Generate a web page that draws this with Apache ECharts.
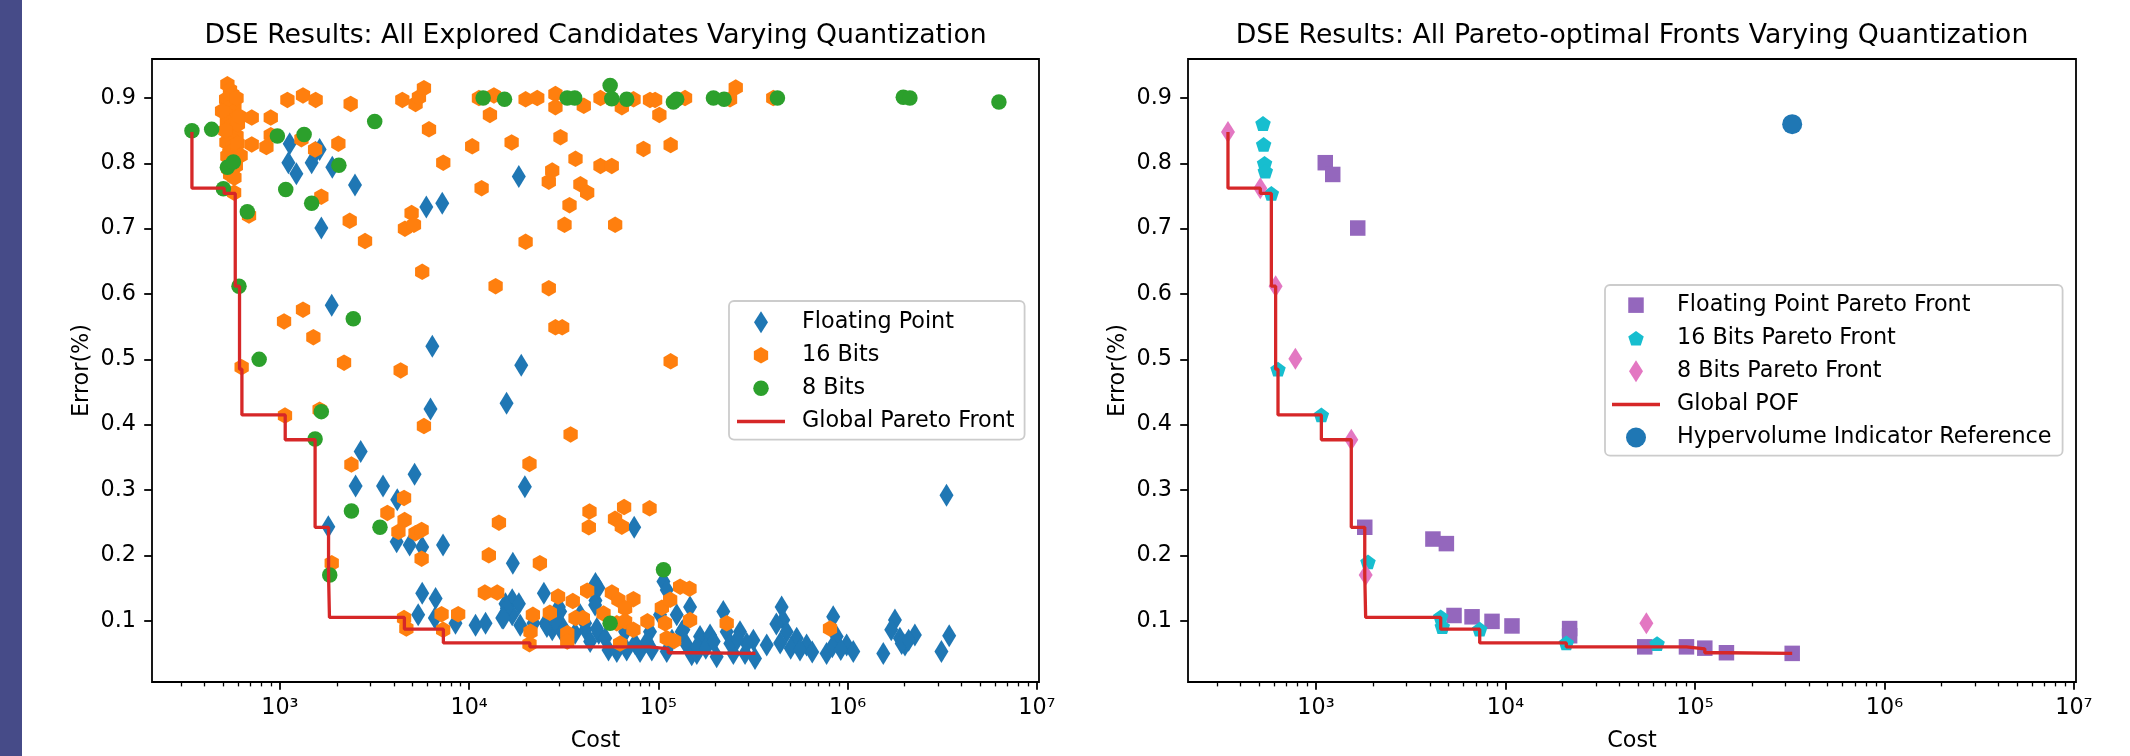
<!DOCTYPE html>
<html>
<head>
<meta charset="utf-8">
<title>DSE Results</title>
<script src="https://cdn.jsdelivr.net/npm/echarts@6/dist/echarts.min.js"></script>
<style>
  html, body { margin: 0; padding: 0; background: #fff; }
  #chart { width: 2130px; height: 756px; }
</style>
</head>
<body>
<div id="chart"></div>
<script>
// [cost, error] pairs
const fpCandidates = [
  [1127, 0.830], [1109, 0.801], [1222, 0.784], [1472, 0.801], [1546, 0.817], [1622, 0.821], [1892, 0.794],
  [2494, 0.767], [1656, 0.701], [5940, 0.733], [7210, 0.739], [18300, 0.780], [1879, 0.583], [6390, 0.520],
  [18850, 0.491], [15770, 0.433], [6250, 0.424], [2673, 0.359], [5150, 0.324], [2513, 0.306], [3508, 0.306],
  [4170, 0.285], [19700, 0.305], [1803, 0.244], [4140, 0.221], [4850, 0.216], [5650, 0.213], [7280, 0.216],
  [17020, 0.188], [5650, 0.142], [6650, 0.134], [5380, 0.109], [6590, 0.104], [8470, 0.096], [10810, 0.093],
  [12210, 0.096], [15560, 0.126], [16890, 0.132], [18320, 0.126], [14960, 0.104], [16890, 0.109], [24830, 0.142],
  [25350, 0.096], [27490, 0.086], [31050, 0.091], [29800, 0.121], [41200, 0.086], [46500, 0.157], [46500, 0.131],
  [48400, 0.081], [15820, 0.119], [15200, 0.104], [21880, 0.096], [25760, 0.091], [30280, 0.114], [30900, 0.083],
  [36310, 0.081], [41020, 0.096], [48200, 0.150], [46300, 0.124], [47300, 0.088], [52380, 0.073], [54500, 0.055],
  [60300, 0.053], [66700, 0.083], [75300, 0.065], [80000, 0.053], [90300, 0.083], [102000, 0.109], [106300, 0.160],
  [110700, 0.147], [110700, 0.053], [125000, 0.109], [132800, 0.083], [141200, 0.063], [147000, 0.121], [150000, 0.048],
  [166000, 0.076], [187500, 0.078], [220300, 0.114], [229600, 0.083], [248900, 0.050], [269900, 0.083], [287000, 0.050],
  [317600, 0.070], [324000, 0.042], [373600, 0.063], [448000, 0.121], [457000, 0.101], [476000, 0.083], [538000, 0.073],
  [607000, 0.063], [774000, 0.050], [839000, 0.106], [875000, 0.076], [988000, 0.063], [1071000, 0.053], [1543000, 0.050],
  [1778000, 0.101], [1888000, 0.073], [2009000, 0.063], [2266000, 0.078], [3330000, 0.292], [74500, 0.243],
  [3130000, 0.053], [3440000, 0.077], [1930000, 0.065], [135500, 0.086], [159600, 0.050], [203200, 0.045],
  [293000, 0.065], [18620, 0.093], [28500, 0.099], [38600, 0.109], [43600, 0.068], [68000, 0.055], [86900, 0.068],
  [92300, 0.055], [118000, 0.070], [160000, 0.060], [178000, 0.058], [196000, 0.068], [240000, 0.065], [262000, 0.072],
  [420000, 0.095], [440000, 0.066], [500000, 0.058], [560000, 0.055], [650000, 0.052], [830000, 0.060], [920000, 0.056],
  [1700000, 0.086], [2100000, 0.070]
];

const bits16Candidates = [
  [528, 0.921], [545, 0.912], [560, 0.905], [520, 0.898], [552, 0.893], [575, 0.889], [533, 0.884], [566, 0.878],
  [540, 0.872], [582, 0.868], [525, 0.863], [556, 0.858], [570, 0.851], [536, 0.846], [590, 0.842], [548, 0.837],
  [522, 0.832], [563, 0.826], [580, 0.821], [541, 0.816], [528, 0.811], [572, 0.806], [555, 0.800], [585, 0.796],
  [534, 0.792], [562, 0.787], [546, 0.783], [575, 0.778], [598, 0.830], [600, 0.860], [515, 0.850], [590, 0.900],
  [495, 0.880], [620, 0.812], [610, 0.872],
  [1096, 0.897], [1325, 0.904], [1545, 0.897], [710, 0.870], [895, 0.870], [710, 0.829], [849, 0.825], [895, 0.843],
  [1300, 0.837], [1535, 0.821], [2037, 0.830], [2366, 0.891], [1656, 0.749], [573, 0.755], [687, 0.720], [2339, 0.712],
  [2818, 0.681], [4436, 0.897], [5212, 0.891], [5430, 0.901], [5770, 0.915], [6136, 0.852], [7300, 0.801], [4966, 0.724],
  [4580, 0.700], [5110, 0.706], [5650, 0.634], [10380, 0.826], [11640, 0.762], [11270, 0.900], [13520, 0.904],
  [12880, 0.874], [16770, 0.832], [19880, 0.680], [13800, 0.612], [26360, 0.609], [28580, 0.549], [31020, 0.549],
  [19880, 0.898], [22900, 0.900], [28580, 0.906], [28580, 0.886], [40350, 0.888], [30390, 0.840], [36480, 0.807],
  [27480, 0.789], [26360, 0.772], [38730, 0.768], [42040, 0.755], [33920, 0.736], [31910, 0.706], [49450, 0.900],
  [49450, 0.796], [1052, 0.558], [1325, 0.576], [1503, 0.534], [2183, 0.495], [4347, 0.483], [628, 0.488],
  [64100, 0.886], [73900, 0.898], [90300, 0.897], [96100, 0.897], [101200, 0.874], [138300, 0.900], [239100, 0.898],
  [256300, 0.916], [404600, 0.900], [83400, 0.822], [116100, 0.828], [56700, 0.796], [59100, 0.706], [116100, 0.497],
  [1064, 0.414], [1622, 0.423], [5770, 0.398], [2388, 0.339], [4530, 0.288], [3700, 0.265], [4560, 0.254], [4230, 0.236],
  [5210, 0.234], [5610, 0.239], [5610, 0.195], [1879, 0.188], [34370, 0.385], [20840, 0.340], [14370, 0.250],
  [12710, 0.200], [23650, 0.188], [43250, 0.267], [42900, 0.243], [12110, 0.143], [14070, 0.143], [29500, 0.137],
  [35300, 0.130], [42040, 0.146], [7150, 0.110], [8750, 0.110], [4530, 0.104], [4660, 0.088], [7290, 0.086],
  [21720, 0.109], [26700, 0.112], [21100, 0.083], [20840, 0.064], [36500, 0.104], [39900, 0.104], [33000, 0.081],
  [33000, 0.068], [65900, 0.274], [89800, 0.272], [59000, 0.256], [64100, 0.244], [56800, 0.143], [61500, 0.132],
  [73800, 0.133], [66700, 0.119], [51300, 0.111], [60300, 0.096], [66700, 0.099], [73800, 0.086], [87500, 0.099],
  [108400, 0.096], [104300, 0.120], [115400, 0.132], [130300, 0.152], [146000, 0.149], [147000, 0.101], [110700, 0.073],
  [121100, 0.069], [62800, 0.065], [229600, 0.096], [807000, 0.088]
];

const bits8Candidates = [
  [343, 0.850], [436, 0.852], [503, 0.761], [528, 0.794], [568, 0.802], [673, 0.726], [608, 0.612], [970, 0.842],
  [1343, 0.844], [1074, 0.760], [1472, 0.739], [2050, 0.797], [3170, 0.864], [2443, 0.562], [777, 0.500],
  [11860, 0.900], [15380, 0.898], [32970, 0.900], [36150, 0.900], [55600, 0.919], [56700, 0.899], [68000, 0.898],
  [120000, 0.894], [125000, 0.898], [195400, 0.900], [222400, 0.898], [425600, 0.900], [1968000, 0.901],
  [2133000, 0.900], [6300000, 0.894], [1656, 0.420], [1535, 0.378], [2388, 0.268], [3380, 0.243], [1834, 0.170],
  [106400, 0.178], [55600, 0.096]
];

const globalFront = [
  [343, 0.848], [508, 0.762], [581, 0.754], [612, 0.612], [630, 0.485], [1067, 0.415], [1535, 0.377], [1808, 0.243],
  [1828, 0.170], [4550, 0.105], [7310, 0.087], [20940, 0.066], [90200, 0.060], [112700, 0.057], [146600, 0.051],
  [326000, 0.050]
];

const fpFront = [
  [1119, 0.801], [1225, 0.783], [1660, 0.701], [1808, 0.243], [4140, 0.225], [4875, 0.218], [5350, 0.108],
  [6660, 0.106], [8490, 0.099], [10820, 0.092], [21800, 0.088], [21800, 0.077], [54300, 0.060], [90200, 0.060],
  [112700, 0.058], [146600, 0.051], [326000, 0.050]
];

const bits16Front = [
  [525, 0.861], [529, 0.829], [535, 0.800], [540, 0.788], [581, 0.754], [630, 0.485], [1067, 0.415], [1880, 0.190],
  [4550, 0.106], [4640, 0.091], [7310, 0.087], [20940, 0.066], [63100, 0.065]
];

const bits8Front = [
  [343, 0.848], [508, 0.762], [612, 0.612], [778, 0.501], [1535, 0.377], [1828, 0.170], [55400, 0.096]
];

const hvReference = [[326000, 0.860]];

const costTicks = [1e3, 1e4, 1e5, 1e6, 1e7];
const costMinorTicks = [
  300, 400, 500, 600, 700, 800, 900,
  2000, 3000, 4000, 5000, 6000, 7000, 8000, 9000,
  20000, 30000, 40000, 50000, 60000, 70000, 80000, 90000,
  200000, 300000, 400000, 500000, 600000, 700000, 800000, 900000,
  2000000, 3000000, 4000000, 5000000, 6000000, 7000000, 8000000, 9000000
];
const errorTicks = [0.1, 0.2, 0.3, 0.4, 0.5, 0.6, 0.7, 0.8, 0.9];

const costMin = 211, costMax = 1.026e7;
const errMin = 0.0062, errMax = 0.9597;

const FONT = 'DejaVu Sans';
const SUP = { 3: '\u00b3', 4: '\u2074', 5: '\u2075', 6: '\u2076', 7: '\u2077' };

const HEX = 'path://M0,-1L0.866,-0.5L0.866,0.5L0,1L-0.866,0.5L-0.866,-0.5Z';
const PENT = 'path://M0,-1L0.951,-0.309L0.588,0.809L-0.588,0.809L-0.951,-0.309Z';

// legend icons live in a 60x22 box, marker centred at x=24
const ICON = {
  diamond: 'path://M0,0M60,22M24,0L31,11L24,22L17,11Z',
  hex: 'path://M0,0M60,22M24,2.75L31.15,6.875L31.15,15.125L24,19.25L16.85,15.125L16.85,6.875Z',
  circle: 'path://M0,0M60,22M16.25,11A7.75,7.75,0,1,1,31.75,11A7.75,7.75,0,1,1,16.25,11Z',
  line: 'path://M0,0M60,22M0,9.2L48,9.2L48,12.8L0,12.8Z',
  square: 'path://M0,0M60,22M16.25,3.25L31.75,3.25L31.75,18.75L16.25,18.75Z',
  pent: 'path://M0,0M60,22M24,3.63L31.75,9.26L28.79,18.37L19.21,18.37L16.25,9.26Z',
  bigCircle: 'path://M0,0M60,22M14,11A10,10,0,1,1,34,11A10,10,0,1,1,14,11Z'
};

const txt = { fontFamily: FONT, fontSize: 22.3, color: '#000' };
const tickLine = { color: '#000', width: 1.8 };

function costAxis(gridIndex) {
  return {
    type: 'log', gridIndex: gridIndex, min: costMin, max: costMax, position: 'bottom',
    name: 'Cost', nameLocation: 'middle', nameGap: 48, nameTextStyle: txt,
    axisLine: { show: false },
    axisTick: { length: 7.8, lineStyle: tickLine, customValues: costTicks },
    axisLabel: Object.assign({
      customValues: costTicks, margin: 15.5,
      formatter: function (v) { return '10' + SUP[Math.round(Math.log10(v))]; }
    }, txt),
    splitLine: { show: false }
  };
}

function minorCostAxis(gridIndex) {
  return {
    type: 'log', gridIndex: gridIndex, min: costMin, max: costMax, position: 'bottom',
    axisLine: { show: false },
    axisTick: { length: 4.4, lineStyle: { color: '#000', width: 1.3 }, customValues: costMinorTicks },
    axisLabel: { show: false },
    splitLine: { show: false }
  };
}

function errorAxis(gridIndex) {
  return {
    type: 'value', gridIndex: gridIndex, min: errMin, max: errMax,
    name: 'Error(%)', nameLocation: 'middle', nameGap: 59, nameRotate: 90, nameTextStyle: txt,
    axisLine: { show: false },
    axisTick: { length: 7.8, lineStyle: tickLine, customValues: errorTicks },
    axisLabel: Object.assign({
      customValues: errorTicks, margin: 16,
      formatter: function (v) { return v.toFixed(1); }
    }, txt),
    splitLine: { show: false }
  };
}

function scatter(name, data, xi, yi, symbol, size, color) {
  return {
    name: name, type: 'scatter', xAxisIndex: xi, yAxisIndex: yi, data: data,
    symbol: symbol, symbolSize: size, itemStyle: { color: color, opacity: 1 },
    emphasis: { disabled: true }
  };
}

function front(name, xi, yi) {
  return {
    name: name, type: 'line', xAxisIndex: xi, yAxisIndex: yi, data: globalFront,
    step: 'start', symbol: 'none', showSymbol: false, color: '#d62728',
    lineStyle: { color: '#d62728', width: 3.3 }, emphasis: { disabled: true }
  };
}

function legendBox(left, top, padding, data) {
  return {
    orient: 'vertical', left: left, top: top, padding: padding,
    itemWidth: 60, itemHeight: 22, itemGap: 10.8,
    backgroundColor: 'rgba(255,255,255,0.8)', borderColor: '#cccccc', borderWidth: 1.8, borderRadius: 5,
    selectedMode: false, itemStyle: { borderWidth: 0 },
    textStyle: Object.assign({ lineHeight: 22.3 }, txt),
    data: data
  };
}

const titleStyle = { fontFamily: FONT, fontSize: 26.7, fontWeight: 'normal', color: '#000' };

const chart = echarts.init(document.getElementById('chart'), null, { renderer: 'canvas' });

chart.setOption({
  animation: false,
  backgroundColor: '#fff',
  graphic: [
    { type: 'rect', shape: { x: 0, y: 0, width: 22, height: 756 }, style: { fill: '#464b88' }, silent: true }
  ],
  title: [
    { text: 'DSE Results: All Explored Candidates Varying Quantization', left: 595.5, top: 23, padding: 0, textAlign: 'center', textStyle: titleStyle },
    { text: 'DSE Results: All Pareto-optimal Fronts Varying Quantization', left: 1632, top: 23, padding: 0, textAlign: 'center', textStyle: titleStyle }
  ],
  grid: [
    { left: 152, top: 59, width: 887, height: 623, show: true, borderColor: '#000', borderWidth: 1.8, containLabel: false, outerBoundsMode: 'none' },
    { left: 1188, top: 59, width: 888, height: 623, show: true, borderColor: '#000', borderWidth: 1.8, containLabel: false, outerBoundsMode: 'none' }
  ],
  xAxis: [costAxis(0), minorCostAxis(0), costAxis(1), minorCostAxis(1)],
  yAxis: [errorAxis(0), errorAxis(1)],
  legend: [
    legendBox(729, 301, [10, 10, 7, 8], [
      { name: 'Floating Point', icon: ICON.diamond },
      { name: '16 Bits', icon: ICON.hex },
      { name: '8 Bits', icon: ICON.circle },
      { name: 'Global Pareto Front', icon: ICON.line }
    ]),
    legendBox(1605, 285, [9, 11, 7, 7], [
      { name: 'Floating Point Pareto Front', icon: ICON.square },
      { name: '16 Bits Pareto Front', icon: ICON.pent },
      { name: '8 Bits Pareto Front', icon: ICON.diamond },
      { name: 'Global POF', icon: ICON.line },
      { name: 'Hypervolume Indicator Reference', icon: ICON.bigCircle }
    ])
  ],
  series: [
    scatter('Floating Point', fpCandidates, 0, 0, 'diamond', [14, 23], '#1f77b4'),
    scatter('16 Bits', bits16Candidates, 0, 0, HEX, [14.3, 16.5], '#ff7f0e'),
    scatter('8 Bits', bits8Candidates, 0, 0, 'circle', 15.5, '#2ca02c'),
    front('Global Pareto Front', 0, 0),
    scatter('Floating Point Pareto Front', fpFront, 2, 1, 'rect', 15.5, '#9467bd'),
    scatter('16 Bits Pareto Front', bits16Front, 2, 1, PENT, [15.5, 14.8], '#17becf'),
    scatter('8 Bits Pareto Front', bits8Front, 2, 1, 'diamond', [14, 22], '#e377c2'),
    front('Global POF', 2, 1),
    scatter('Hypervolume Indicator Reference', hvReference, 2, 1, 'circle', 20, '#1f77b4')
  ]
});
</script>
</body>
</html>
